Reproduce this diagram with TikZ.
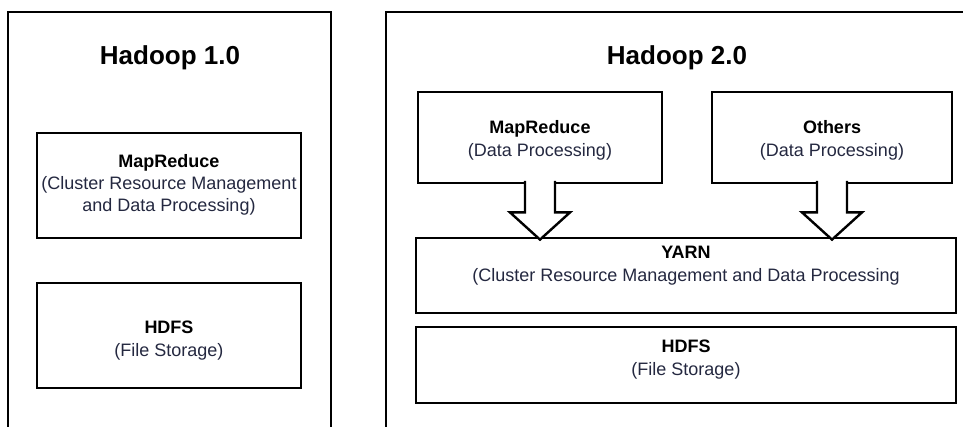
\documentclass[tikz,border=0pt]{standalone}
\usepackage{fontspec}
\setmainfont{Liberation Sans}
\usepackage{xcolor}
\usetikzlibrary{positioning, calc}
\definecolor{txtnavy}{RGB}{36,40,64}

\tikzset{
  outerframe/.style={line width=2.8pt},
  box/.style={draw, line width=2.8pt, inner sep=0pt},
  title/.style={font=\fontsize{26}{30}\selectfont\bfseries},
  boxtext/.style={align=center, text=txtnavy, font=\fontsize{18}{23}\selectfont},
  blockarr/.style={draw, fill=white, line width=2.4pt, line join=miter}
}

\begin{document}
\begin{tikzpicture}[x=1pt, y=-1pt]
  \useasboundingbox (0,0) rectangle (963,427);

  % outer frames, cut at the page edge
  \draw[outerframe] (8,430) -- (8,12) -- (331,12) -- (331,430);
  \draw[outerframe] (386,430) -- (386,12) -- (968,12);

  \node[title] (t1) at (170,58) {Hadoop 1.0};
  \node[title] (t2) at (677,58) {Hadoop 2.0};

  %Hadoop 1.0
  \node[box, minimum width=264, minimum height=105] (mr1) at (169,185.5) {};
  \node[boxtext] (mr1txt) at (169,185) {\textcolor{black}{\textbf{MapReduce}}\\[-1pt](Cluster Resource Management\\[-1pt]and Data Processing)};
  \node[box, minimum width=264, minimum height=105] (hdfs1) at (169,335.5) {};
  \node[boxtext] (hdfs1txt) at (169,341) {\textcolor{black}{\textbf{HDFS}}\\(File Storage)};

  %Hadoop 2.0
  \node[box, minimum width=244, minimum height=91] (mr2) at (540,137.5) {};
  \node[boxtext] (mr2txt) at (540,140) {\textcolor{black}{\textbf{MapReduce}}\\(Data Processing)};
  \node[box, minimum width=240, minimum height=91] (oth) at (832,137.5) {};
  \node[boxtext] (othtxt) at (832,140) {\textcolor{black}{\textbf{Others}}\\(Data Processing)};
  \node[box, minimum width=540, minimum height=75] (yarn) at (686,275.5) {};
  \node[boxtext] (yarntxt) at (686,266) {\textcolor{black}{\textbf{YARN}}\\(Cluster Resource Management and Data Processing};
  \node[box, minimum width=540, minimum height=76] (hdfs2) at (686,365) {};
  \node[boxtext] (hdfs2txt) at (686,360) {\textcolor{black}{\textbf{HDFS}}\\(File Storage)};

  % block arrows into YARN
  \foreach \src in {mr2, oth}
    \draw[blockarr] ($(\src.south)+(-15,-3.5)$) -- ($(\src.south)+(-15,28)$)
      -- ($(\src.south)+(-30,28)$) -- ($(\src.south |- yarn.north)+(0,3)$)
      -- ($(\src.south)+(30,28)$) -- ($(\src.south)+(15,28)$)
      -- ($(\src.south)+(15,-3.5)$);
\end{tikzpicture}
\end{document}
